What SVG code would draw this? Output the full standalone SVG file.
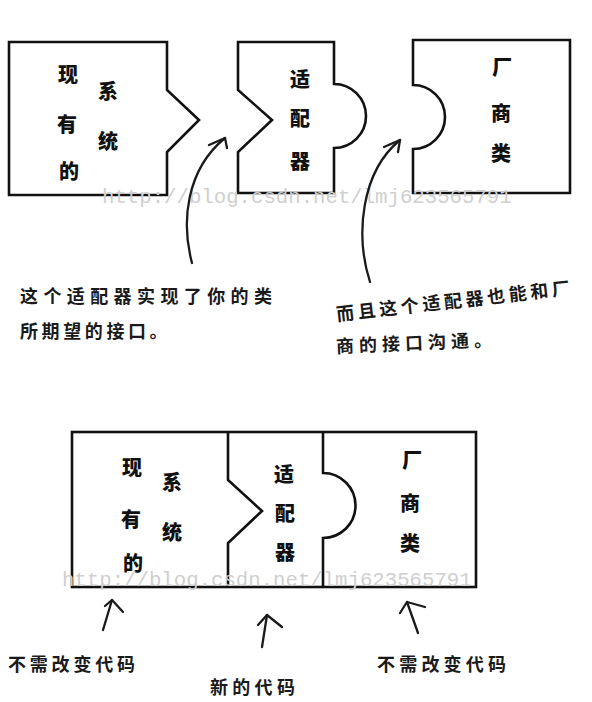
<svg xmlns="http://www.w3.org/2000/svg" width="592" height="702" viewBox="0 0 592 702">
  <style>
    .piece { fill: #ffffff; stroke: #111; stroke-width: 2.6; stroke-linejoin: miter; }
    .edge { fill: none; stroke: #111; stroke-width: 2.6; stroke-linejoin: miter; }
    .glyph { font-family: "Noto Sans CJK SC", "Noto Sans CJK TC", sans-serif; font-weight: 900; font-size: 20px; fill: #111; text-anchor: middle; dominant-baseline: central; }
    .note { font-family: "Noto Sans CJK SC", "Noto Sans CJK TC", sans-serif; font-weight: 700; font-size: 18px; fill: #1a1a1a; dominant-baseline: central; }
    .pen { fill: none; stroke: #1a1a1a; stroke-width: 2.3; stroke-linecap: round; stroke-linejoin: round; }
    .mark { font-family: "Liberation Mono", monospace; font-size: 20.7px; fill: #cfcfcf; }
  </style>

  <!-- upper row: three separate pieces -->
  <g id="top-system">
    <path class="piece" d="M9,42 H167 V90 L199,120 L167,152 V195 H9 Z"/>
    <text class="glyph" x="68" y="73">现</text>
    <text class="glyph" x="67" y="123">有</text>
    <text class="glyph" x="69" y="170">的</text>
    <text class="glyph" x="108" y="90">系</text>
    <text class="glyph" x="108" y="140">统</text>
  </g>

  <g id="top-adapter">
    <path class="piece" d="M238,42 H334 V84 A32,32 0 0 1 334,148 V193 H238 V152 L272,120 L238,90 Z"/>
    <text class="glyph" x="300" y="78">适</text>
    <text class="glyph" x="300" y="117">配</text>
    <text class="glyph" x="300" y="160">器</text>
  </g>

  <g id="top-vendor">
    <path class="piece" d="M413,40 H570 V193 H413 V149 A32,32 0 0 0 413,85 Z"/>
    <text class="glyph" x="502" y="66">厂</text>
    <text class="glyph" x="501" y="112">商</text>
    <text class="glyph" x="501" y="152">类</text>
  </g>

  <!-- watermark line across the upper row -->
  <text class="mark" x="102" y="203">http://blog.csdn.net/lmj623565791</text>

  <!-- notes under the upper row -->
  <g id="note-left">
    <text class="note" x="20" y="295" letter-spacing="5.4">这个适配器实现了你的类</text>
    <text class="note" x="20" y="330" letter-spacing="3.6">所期望的接口。</text>
  </g>
  <g id="note-right">
    <text class="note" transform="translate(336,313) rotate(-6.5)" letter-spacing="3.7">而且这个适配器也能和厂</text>
    <text class="note" transform="translate(336,345) rotate(-2.5)" letter-spacing="5">商的接口沟通。</text>
  </g>

  <!-- lower row: pieces joined in one frame -->
  <g id="bottom-frame">
    <rect class="piece" x="72" y="432" width="404" height="155"/>
  </g>
  <g id="bottom-system">
    <path class="edge" d="M228,432 V480 L262,511 L228,543 V587"/>
    <text class="glyph" x="132" y="466">现</text>
    <text class="glyph" x="131" y="518">有</text>
    <text class="glyph" x="133" y="562">的</text>
    <text class="glyph" x="172" y="481">系</text>
    <text class="glyph" x="172" y="531">统</text>
  </g>
  <g id="bottom-adapter">
    <path class="edge" d="M323,432 V473 A32.5,32.5 0 0 1 323,538 V587"/>
    <text class="glyph" x="284" y="473">适</text>
    <text class="glyph" x="285" y="512">配</text>
    <text class="glyph" x="285" y="551">器</text>
  </g>
  <g id="bottom-vendor">
    <text class="glyph" x="412" y="459">厂</text>
    <text class="glyph" x="410" y="502">商</text>
    <text class="glyph" x="410" y="542">类</text>
  </g>

  <!-- watermark line across the lower row -->
  <text class="mark" x="62" y="586">http://blog.csdn.net/lmj623565791</text>

  <!-- hand-drawn pointer arrows -->
  <g id="connectors">
    <path class="pen" d="M192,263 C181,222 186,170 225,138"/>
    <path class="pen" d="M209,145 L225,138 L227,148"/>
    <path class="pen" d="M370,282 C355,235 361,172 400,140"/>
    <path class="pen" d="M384,147 L400,140 L398,152"/>

    <path class="pen" d="M103,630 L112,600"/>
    <path class="pen" d="M105,606 L112,600 L123,612"/>
    <path class="pen" d="M262,647 L267,615"/>
    <path class="pen" d="M258,625 L267,615 L282,627"/>
    <path class="pen" d="M418,633 L407,602"/>
    <path class="pen" d="M400,613 L407,602 L425,607"/>
  </g>

  <!-- labels under the lower row -->
  <g id="labels">
    <text class="note" x="8" y="663" letter-spacing="3.8">不需改变代码</text>
    <text class="note" x="210" y="686" letter-spacing="4.3">新的代码</text>
    <text class="note" x="377" y="663" letter-spacing="4.2">不需改变代码</text>
  </g>
</svg>
